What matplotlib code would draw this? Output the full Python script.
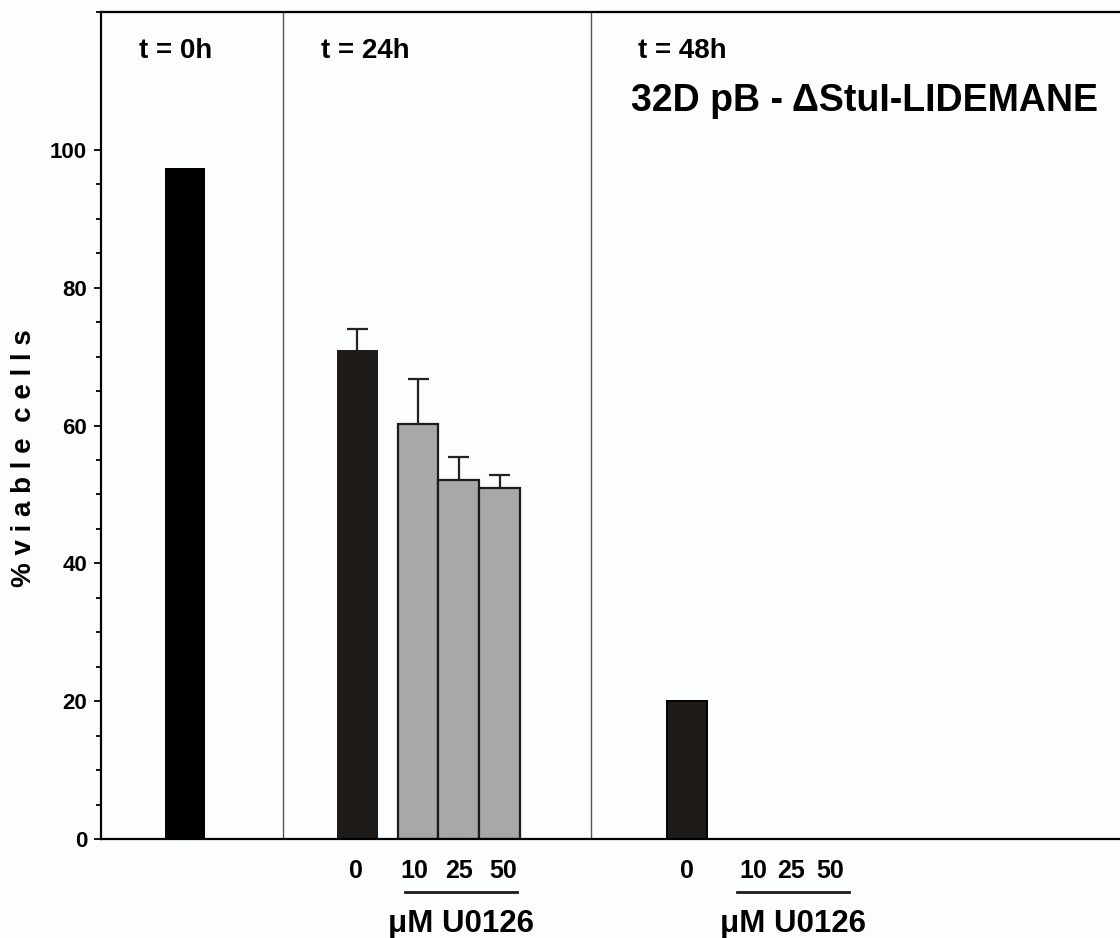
import matplotlib
matplotlib.use("Agg")
import matplotlib.pyplot as plt
from matplotlib.ticker import FixedLocator

# data (% viable cells)
t0_value = 97.4
t24_values = [71.0, 60.2, 52.1, 50.9]
t24_err = [3.0, 6.5, 3.3, 1.9]
t48_values = [20.0, 0.0, 0.0, 0.0]
dose_labels = ["0", "10", "25", "50"]
time_labels = ["t = 0h", "t = 24h", "t = 48h"]
title = "32D pB - \u0394StuI-LIDEMANE"
drug_label = "\u03bcM U0126"

# layout (x in bar-width units)
w = 0.97
x_t0 = 2.0
x_t24 = [6.1, 7.55, 8.52, 9.49]
x_t48 = [13.95, 15.6, 16.43, 17.29]
lab_t24 = [6.07, 7.45, 8.52, 9.57]
lab_t48 = [13.95, 15.52, 16.43, 17.36]
underlines = [(7.24, 9.9), (15.14, 17.81)]
time_x = [1.77, 6.3, 13.83]
dividers = [4.33, 11.67]

plt.rcParams["font.family"] = ["Liberation Sans", "DejaVu Sans"]
plt.rcParams["font.weight"] = "bold"

bg = "#fcfdff"
dark = "#1e1a17"
gray = "#a7a9a9"

fig = plt.figure(figsize=(11.2, 9.38), dpi=100, facecolor=bg)
ax = fig.add_axes([0.0902, 0.1055, 0.9098, 0.8817], facecolor=bg)

ax.bar(x_t0, t0_value, width=w, color="black", edgecolor="black", linewidth=0)
ax.bar(x_t24[0], t24_values[0], width=w, color=dark, edgecolor=dark, linewidth=0)
ax.bar(x_t24[1:], t24_values[1:], width=w, color=gray, edgecolor=dark, linewidth=1.6)
ax.bar(x_t48[0], t48_values[0], width=w, color=dark, edgecolor="black", linewidth=1.4)

# upper error bars only
tops = [v + e for v, e in zip(t24_values, t24_err)]
ax.vlines(x_t24, t24_values, tops, color="#222222", linewidth=1.6)
ax.hlines(tops, [x - 0.25 for x in x_t24], [x + 0.25 for x in x_t24],
          color="#222222", linewidth=1.6)

for d in dividers:
    ax.axvline(d, color="#555555", linewidth=1.0)

ax.set_xlim(0, 1019 / 42)
ax.set_ylim(0, 120)
ax.set_yticks([0, 20, 40, 60, 80, 100])
ax.yaxis.set_minor_locator(FixedLocator([v for v in range(5, 100, 5) if v % 20] + [120]))
ax.tick_params(axis="y", which="major", length=5, width=1.3, labelsize=16, pad=5)
ax.tick_params(axis="y", which="minor", length=3.6, width=1.3)
for lab in ax.get_yticklabels():
    lab.set_fontweight("bold")
ax.set_xticks([])

for s in ["left", "top", "bottom"]:
    ax.spines[s].set_linewidth(1.6)
    ax.spines[s].set_color("black")
ax.spines["right"].set_visible(False)

for x, lab in zip(time_x, time_labels):
    ax.text(x, 113.3, lab, ha="center", va="baseline", fontsize=20, fontweight="bold")

ax.text(18.17, 105.7, title, ha="center", va="baseline", fontsize=27, fontweight="bold")

ax.text(-0.0756, 0.46, "% v i a b l e  c e l l s", transform=ax.transAxes,
        rotation=90, ha="center", va="center", fontsize=20, fontweight="bold")

# dose labels, underline and drug label
for x, lab in zip(lab_t24 + lab_t48, dose_labels + dose_labels):
    ax.text(x, -5.65, lab, ha="center", va="baseline", fontsize=18,
            fontweight="bold", clip_on=False)
for x0, x1 in underlines:
    ax.plot([x0, x1], [-7.7, -7.7], color=dark, linewidth=2.0, clip_on=False)
    ax.text((x0 + x1) / 2, -13.5, drug_label, ha="center", va="baseline",
            fontsize=22.5, fontweight="bold")

fig.savefig("out.png", dpi=100, facecolor=bg)
